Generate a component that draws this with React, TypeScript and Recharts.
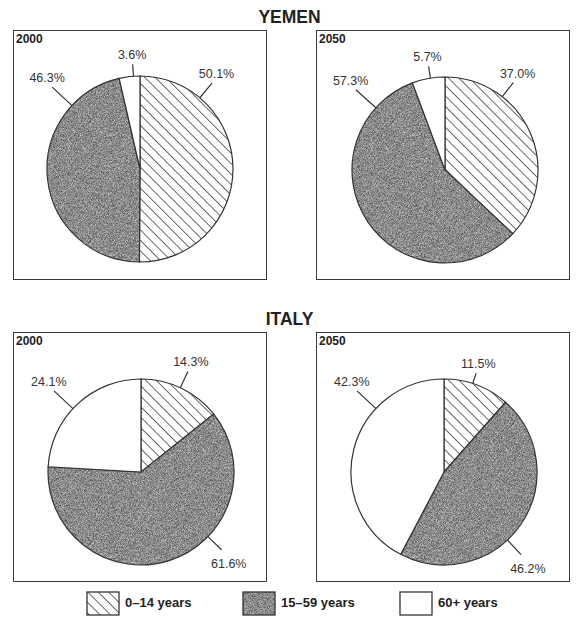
import React from 'react';
import { PieChart, Pie, Cell } from 'recharts';

// ---- Data ----
const CATEGORIES = ['0–14 years', '15–59 years', '60+ years'];
const COUNTRIES = ['YEMEN', 'ITALY'];
const YEARS = ['2000', '2050'];
const YEMEN_2000 = [50.1, 46.3, 3.6];
const YEMEN_2050 = [37.0, 57.3, 5.7];
const ITALY_2000 = [14.3, 61.6, 24.1];
const ITALY_2050 = [11.5, 46.2, 42.3];

// ---- Styles / layout ----
const FONT = '"Liberation Sans", Arial, Helvetica, sans-serif';
const FILLS = ['url(#hatch)', 'url(#stipple)', '#ffffff'];
const BOX_W = 254;
const BOX_H = 250;
const R = 93;

const PANELS = [
  { values: YEMEN_2000, year: YEARS[0], left: 13, top: 30, cx: 127, cy: 139, angles: [40, 313, 356], lens: [19, 27, 12] },
  { values: YEMEN_2050, year: YEARS[1], left: 316, top: 30, cx: 129, cy: 140, angles: [38, 312, 351], lens: [18, 27, 12] },
  { values: ITALY_2000, year: YEARS[0], left: 13, top: 332, cx: 128, cy: 140, angles: [25, 134, 313], lens: [18, 19, 26] },
  { values: ITALY_2050, year: YEARS[1], left: 316, top: 332, cx: 128, cy: 140, angles: [18, 137, 313], lens: [11, 20, 26] },
];

const TITLES = [
  { text: COUNTRIES[0], y: 23 },
  { text: COUNTRIES[1], y: 325 },
];

const LEGEND_X = [87, 243, 400];
const LEGEND_Y = 592;

function makeLabel(panel: any) {
  return (props: any) => {
    const { index, value } = props;
    const a = (panel.angles[index] * Math.PI) / 180;
    const s = Math.sin(a);
    const c = Math.cos(a);
    const sx = panel.cx + R * s;
    const sy = panel.cy - R * c;
    const ex = panel.cx + (R + panel.lens[index]) * s;
    const ey = panel.cy - (R + panel.lens[index]) * c;
    const upper = c > 0;
    const tx = ex + (upper ? 7 : 10) * s;
    const ty = upper ? ey - 5 : ey + 18;
    return (
      <g key={`lbl-${index}`}>
        <line x1={sx} y1={sy} x2={ex} y2={ey} stroke="#333" strokeWidth={1.2} />
        <text x={tx} y={ty} textAnchor="middle" fontSize={12.5} fontFamily={FONT} fill="#333">
          {`${Number(value).toFixed(1)}%`}
        </text>
      </g>
    );
  };
}

function Defs() {
  return (
    <svg width={1} height={1} style={{ position: 'absolute', left: 0, top: 0 }}>
      <defs>
        <pattern id="hatch" patternUnits="userSpaceOnUse" width={7.4} height={7.4} patternTransform="rotate(-45)">
          <rect width={7.4} height={7.4} fill="#ffffff" />
          <line x1={0} y1={0} x2={0} y2={7.4} stroke="#2a2a2a" strokeWidth={1.4} />
        </pattern>
        <filter id="grain" x="0" y="0" width="1" height="1" colorInterpolationFilters="sRGB">
          <feTurbulence type="fractalNoise" baseFrequency="1.4" numOctaves={2} seed={3} result="n" />
          <feColorMatrix
            in="n"
            type="matrix"
            values="0.75 0 0 0 0.17  0.75 0 0 0 0.17  0.75 0 0 0 0.17  0 0 0 0 1"
          />
        </filter>
        <pattern id="stipple" patternUnits="userSpaceOnUse" width={120} height={120}>
          <rect width={120} height={120} fill="#8a8a8a" />
          <rect width={120} height={120} fill="#8a8a8a" filter="url(#grain)" />
        </pattern>
      </defs>
    </svg>
  );
}

export default function App() {
  return (
    <div
      style={{
        position: 'absolute',
        left: 0,
        top: 0,
        width: 588,
        height: 620,
        background: '#ffffff',
        fontFamily: FONT,
        overflow: 'hidden',
      }}
    >
      <Defs />
      {TITLES.map((t) => (
        <div
          key={t.text}
          style={{
            position: 'absolute',
            left: 0,
            width: 579,
            top: t.y - 16,
            textAlign: 'center',
            fontSize: 17.5,
            fontWeight: 'bold',
            color: '#222',
            lineHeight: '20px',
          }}
        >
          {t.text}
        </div>
      ))}
      {PANELS.map((p, pi) => {
        const data = CATEGORIES.map((name, i) => ({ name, value: p.values[i] }));
        return (
          <div
            key={pi}
            style={{
              position: 'absolute',
              left: p.left,
              top: p.top,
              width: BOX_W,
              height: BOX_H,
              boxSizing: 'border-box',
              border: '1.5px solid #3a3a3a',
            }}
          >
            <div
              style={{
                position: 'absolute',
                left: 2,
                top: 1,
                fontSize: 12,
                fontWeight: 'bold',
                color: '#222',
                lineHeight: '14px',
                zIndex: 2,
              }}
            >
              {p.year}
            </div>
            <div style={{ position: 'absolute', left: -1.5, top: -1.5 }}>
              <PieChart width={BOX_W} height={BOX_H} margin={{ top: 0, right: 0, bottom: 0, left: 0 }}>
                <Pie
                  data={data}
                  dataKey="value"
                  nameKey="name"
                  cx={p.cx}
                  cy={p.cy}
                  outerRadius={R}
                  startAngle={90}
                  endAngle={-270}
                  stroke="#333"
                  strokeWidth={1.2}
                  isAnimationActive={false}
                  labelLine={false}
                  label={makeLabel(p)}
                >
                  {data.map((d, i) => (
                    <Cell key={d.name} fill={FILLS[i]} />
                  ))}
                </Pie>
              </PieChart>
            </div>
          </div>
        );
      })}
      {CATEGORIES.map((c, i) => (
        <React.Fragment key={c}>
          <svg
            width={34}
            height={25}
            style={{ position: 'absolute', left: LEGEND_X[i] - 1, top: LEGEND_Y - 1 }}
          >
            <rect x={1} y={1} width={32} height={23} fill={FILLS[i]} stroke="#333" strokeWidth={1.3} />
          </svg>
          <div
            style={{
              position: 'absolute',
              left: LEGEND_X[i] + 38,
              top: LEGEND_Y + 3,
              fontSize: 13,
              fontWeight: 'bold',
              color: '#222',
              lineHeight: '16px',
              whiteSpace: 'nowrap',
            }}
          >
            {c}
          </div>
        </React.Fragment>
      ))}
    </div>
  );
}
